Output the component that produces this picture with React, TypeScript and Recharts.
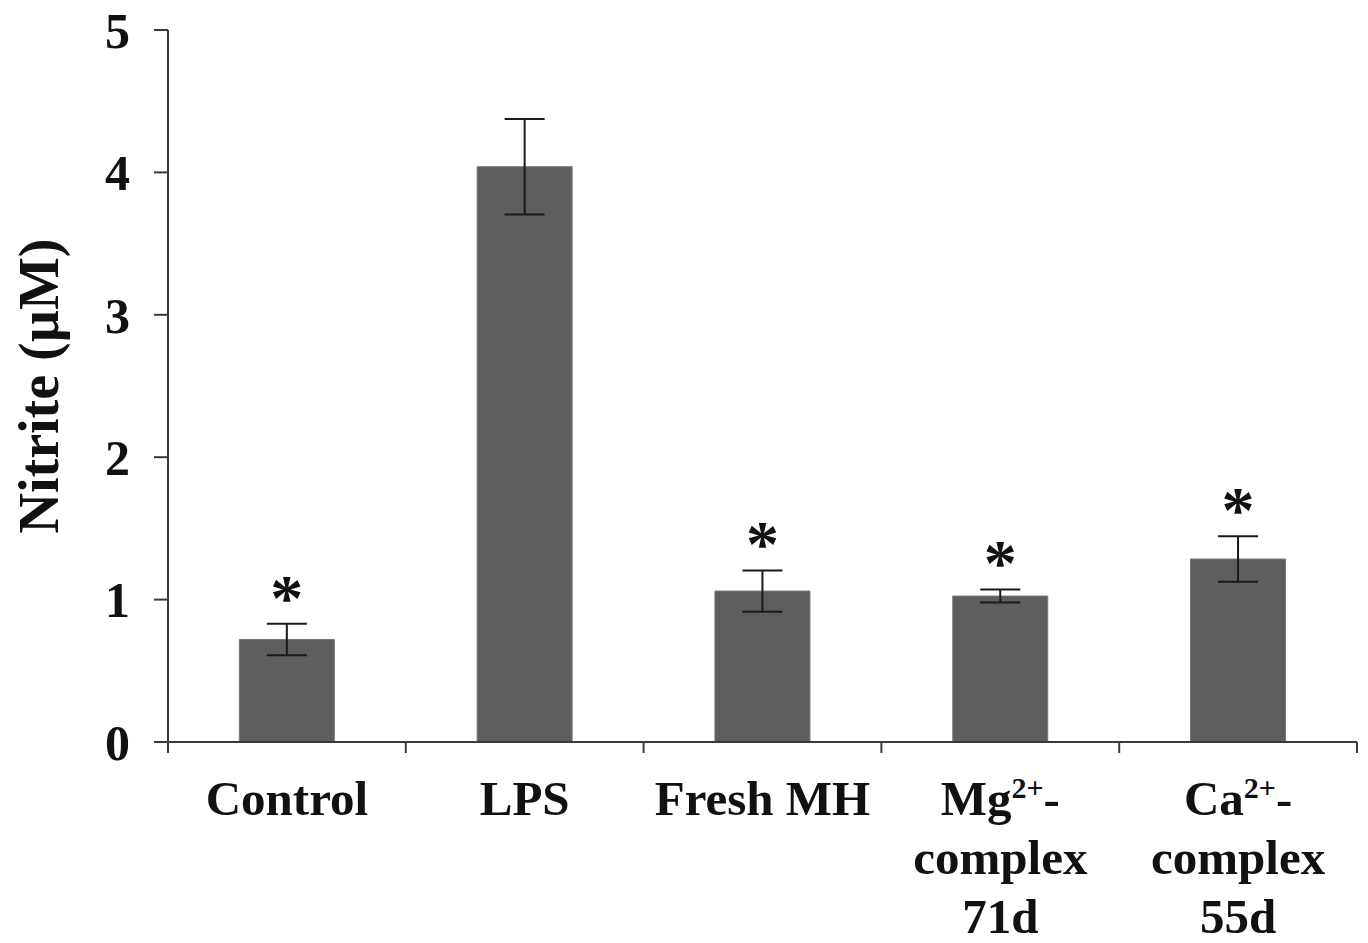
import { Bar, BarChart, ErrorBar, LabelList, XAxis, YAxis } from 'recharts';

// values (µM nitrite, mean ± error)
const groups = ['Control', 'LPS', 'Fresh MH', 'Mg', 'Ca'];
const nitrite = [0.72, 4.04, 1.06, 1.025, 1.285];
const errors = [0.11, 0.335, 0.145, 0.046, 0.16];
const significant = [true, false, true, true, true];
// label lines, ^...^ marks superscript
const labelLines = [['Control'], ['LPS'], ['Fresh MH'], ['Mg^2+^-', 'complex', '71d'], ['Ca^2+^-', 'complex', '55d']];
const yTicks = [0, 1, 2, 3, 4, 5];

const W = 1368;
const H = 943;
const MARGIN = { top: 30, right: 11, bottom: 0, left: 0 };
const Y_WIDTH = 168;
const BAND = (W - MARGIN.left - MARGIN.right - Y_WIDTH) / groups.length;

const FONT = '"Liberation Serif", "Times New Roman", serif';
const INK = '#111';
const AXIS = '#3a3a3a';
const BAR = '#5e5e5e';

const data = groups.map((g, i) => ({ group: g, nitrite: nitrite[i], err: errors[i], sig: significant[i] }));

function renderLine(line: string) {
  return line.split('^').map((part, i) =>
    i % 2 === 1 ? (
      <tspan key={i} fontSize={30} dy={-17}>
        {part}
      </tspan>
    ) : (
      <tspan key={i} dy={i > 0 ? 17 : 0}>
        {part}
      </tspan>
    )
  );
}

function GroupTick(props: any) {
  const { x, y, index } = props;
  const lines = labelLines[index] || [];
  return (
    <g>
      <line x1={x - BAND / 2} x2={x - BAND / 2} y1={y} y2={y + 11} stroke={AXIS} strokeWidth={2} />
      {index === groups.length - 1 && (
        <line x1={x + BAND / 2} x2={x + BAND / 2} y1={y} y2={y + 11} stroke={AXIS} strokeWidth={2} />
      )}
      {lines.map((ln, i) => (
        <text key={i} x={x} y={y + 73 + i * 59} textAnchor="middle" fontFamily={FONT} fontWeight="bold" fontSize={49} fill={INK}>
          {renderLine(ln)}
        </text>
      ))}
    </g>
  );
}

function Star(props: any) {
  const { x, y, width, height, value, index } = props;
  if (!significant[index]) return null;
  const top = y - (height / value) * errors[index];
  return (
    <text x={x + width / 2} y={top - 4} textAnchor="middle" fontFamily={FONT} fontWeight="bold" fontSize={66} fill={INK}>
      *
    </text>
  );
}

export default function App() {
  return (
    <div style={{ position: 'absolute', left: 0, top: 0, background: '#fff' }}>
      <BarChart width={W} height={H} data={data} margin={MARGIN} barCategoryGap="30%">
        <XAxis
          dataKey="group"
          height={201}
          tickSize={0}
          tickMargin={0}
          tickLine={false}
          axisLine={{ stroke: AXIS, strokeWidth: 2 }}
          tick={GroupTick}
          interval={0}
        />
        <YAxis
          width={Y_WIDTH}
          domain={[0, 5]}
          ticks={yTicks}
          interval={0}
          tickSize={14}
          tickMargin={24}
          axisLine={{ stroke: AXIS, strokeWidth: 2 }}
          tickLine={{ stroke: AXIS, strokeWidth: 2 }}
          tick={{ fontFamily: FONT, fontWeight: 'bold', fontSize: 50, fill: INK }}
          label={{
            content: ({ viewBox }: any) => {
              const cy = viewBox.y + viewBox.height / 2;
              return (
                <text x={58} y={cy} transform={`rotate(-90, 58, ${cy})`} textAnchor="middle" fontFamily={FONT} fontWeight="bold" fontSize={56} fill={INK}>
                  Nitrite (µM)
                </text>
              );
            },
          }}
        />
        <Bar dataKey="nitrite" fill={BAR} stroke="#777" strokeWidth={1} isAnimationActive={false}>
          <ErrorBar dataKey="err" width={20} stroke="#1a1a1a" strokeWidth={2} isAnimationActive={false} />
          <LabelList dataKey="nitrite" content={Star} />
        </Bar>
      </BarChart>
    </div>
  );
}
